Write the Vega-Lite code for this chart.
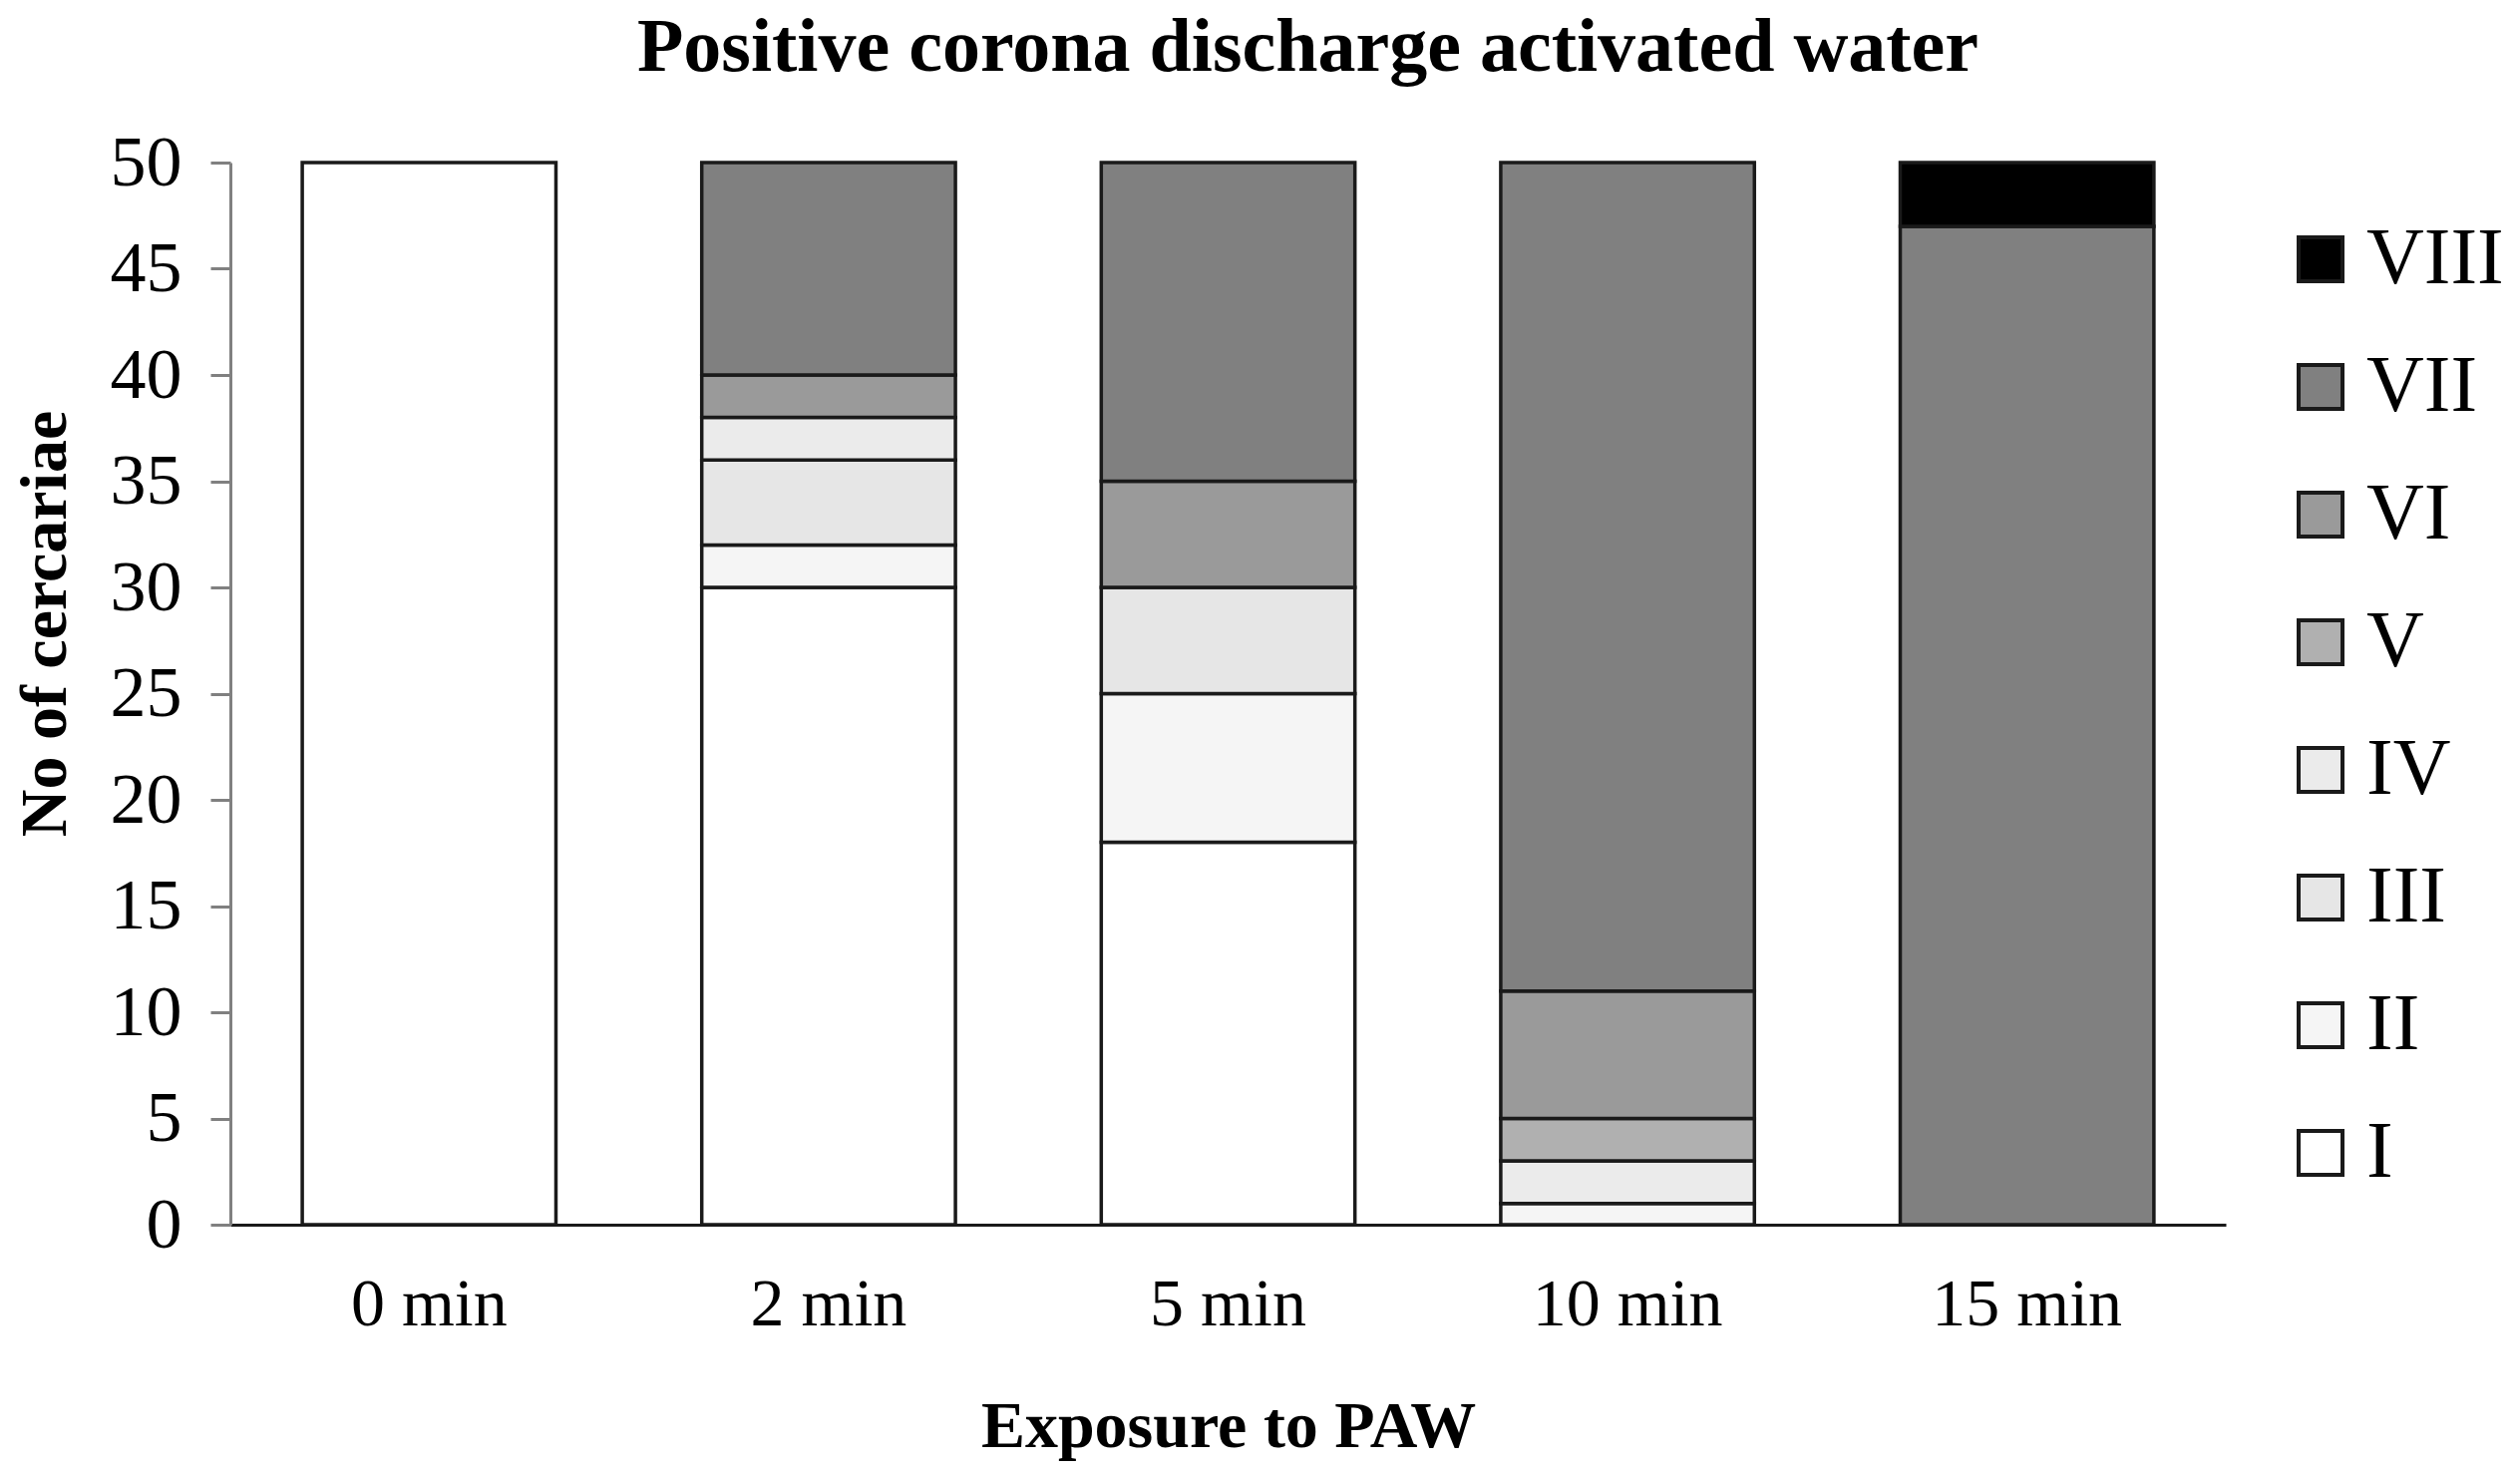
{
  "$schema": "https://vega.github.io/schema/vega-lite/v6.json",
  "description": "Stacked bars: developmental stage counts of cercariae after exposure to plasma activated water.",
  "autosize": "none",
  "padding": {"left": 231, "top": 163, "right": 295, "bottom": 251},
  "width": 2001,
  "height": 1065,
  "background": "white",
  "title": {
    "text": "Positive corona discharge activated water",
    "font": "Liberation Serif",
    "fontSize": 76,
    "fontWeight": "bold",
    "color": "black",
    "anchor": "middle",
    "baseline": "bottom",
    "offset": 10,
    "dx": 80,
    "dy": 46
  },
  "data": {
    "values": [
      {"time": "0 min", "stage": "I", "count": 50},
      {"time": "2 min", "stage": "I", "count": 30},
      {"time": "2 min", "stage": "II", "count": 2},
      {"time": "2 min", "stage": "III", "count": 4},
      {"time": "2 min", "stage": "IV", "count": 2},
      {"time": "2 min", "stage": "VI", "count": 2},
      {"time": "2 min", "stage": "VII", "count": 10},
      {"time": "5 min", "stage": "I", "count": 18},
      {"time": "5 min", "stage": "II", "count": 7},
      {"time": "5 min", "stage": "III", "count": 5},
      {"time": "5 min", "stage": "VI", "count": 5},
      {"time": "5 min", "stage": "VII", "count": 15},
      {"time": "10 min", "stage": "II", "count": 1},
      {"time": "10 min", "stage": "IV", "count": 2},
      {"time": "10 min", "stage": "V", "count": 2},
      {"time": "10 min", "stage": "VI", "count": 6},
      {"time": "10 min", "stage": "VII", "count": 39},
      {"time": "15 min", "stage": "VII", "count": 47},
      {"time": "15 min", "stage": "VIII", "count": 3}
    ]
  },
  "mark": {"type": "bar", "stroke": "#1a1a1a", "strokeWidth": 3.5},
  "encoding": {
    "x": {
      "field": "time",
      "type": "nominal",
      "sort": ["0 min", "2 min", "5 min", "10 min", "15 min"],
      "scale": {"paddingInner": 0.365, "paddingOuter": 0.18},
      "axis": {
        "title": "Exposure to PAW",
        "labelAngle": 0,
        "labelLimit": 0,
        "ticks": false,
        "tickSize": 0,
        "labelBaseline": "alphabetic",
        "labelPadding": 100,
        "labelFontSize": 68,
        "titleY": 222,
        "titleBaseline": "alphabetic",
        "domainColor": "#1a1a1a",
        "domainWidth": 3
      }
    },
    "y": {
      "field": "count",
      "type": "quantitative",
      "stack": "zero",
      "scale": {"domain": [0, 50]},
      "axis": {
        "title": "No of cercariae",
        "values": [0, 5, 10, 15, 20, 25, 30, 35, 40, 45, 50],
        "grid": false,
        "tickSize": 20,
        "tickColor": "#808080",
        "tickWidth": 3,
        "domainColor": "#808080",
        "domainWidth": 3,
        "labelPadding": 29,
        "labelFontSize": 72,
        "titleAngle": 270,
        "titleX": -186,
        "titleY": 462,
        "titleAlign": "center",
        "titleBaseline": "middle"
      }
    },
    "color": {
      "field": "stage",
      "type": "nominal",
      "scale": {
        "domain": ["VIII", "VII", "VI", "V", "IV", "III", "II", "I"],
        "range": ["#000000", "#808080", "#9a9a9a", "#b0b0b0", "#ebebeb", "#e6e6e6", "#f5f5f5", "#ffffff"]
      },
      "legend": {
        "title": null,
        "orient": "none",
        "legendX": 2056,
        "legendY": 57,
        "symbolType": "square",
        "symbolSize": 1936,
        "symbolStrokeColor": "#1a1a1a",
        "symbolStrokeWidth": 4,
        "symbolOpacity": 1,
        "labelFontSize": 80,
        "labelOffset": 6,
        "rowPadding": 48,
        "padding": 0
      }
    },
    "order": {"field": "stage", "sort": "ascending"}
  },
  "config": {
    "font": "Liberation Serif",
    "view": {"stroke": null},
    "axis": {
      "labelFont": "Liberation Serif",
      "labelColor": "black",
      "titleFont": "Liberation Serif",
      "titleFontSize": 66,
      "titleFontWeight": "bold",
      "titleColor": "black"
    },
    "legend": {"labelFont": "Liberation Serif", "labelColor": "black", "labelLimit": 0}
  }
}
